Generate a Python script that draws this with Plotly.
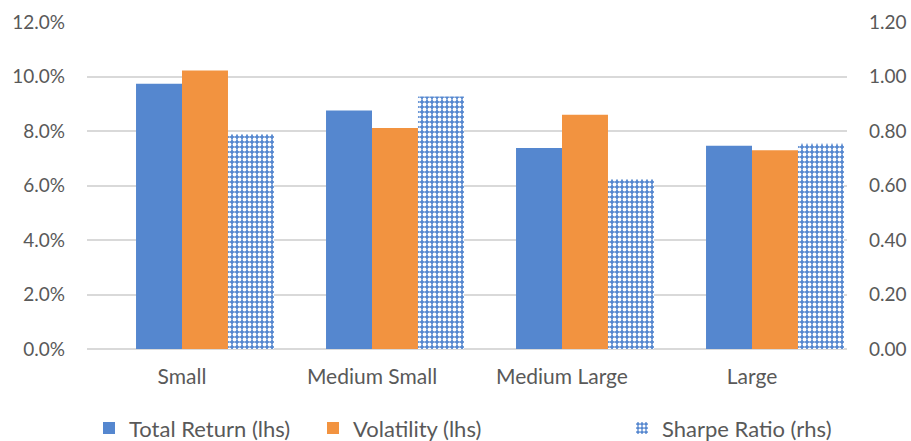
import plotly.graph_objects as go

categories = ["Small", "Medium Small", "Medium Large", "Large"]
total_return = [0.0973, 0.0875, 0.0738, 0.0746]
volatility = [0.1022, 0.0811, 0.0860, 0.0729]
sharpe = [0.788, 0.927, 0.623, 0.753]

left_ticks = [0, 0.02, 0.04, 0.06, 0.08, 0.10, 0.12]
right_ticks = [0, 0.2, 0.4, 0.6, 0.8, 1.0, 1.2]

FONT = "Lato, Open Sans, sans-serif"
BLUE = "#5587CF"
ORANGE = "#F29340"
TXT = "#595959"
W = 0.242

PL, PR = 87, 847
def px(x):
    return (x - PL) / (PR - PL)

fig = go.Figure()
fig.add_trace(go.Bar(x=categories, y=total_return, name="Total Return (lhs)",
                     width=W, offset=-W, showlegend=True,
                     marker=dict(color=BLUE, line=dict(width=0)), legend="legend"))
fig.add_trace(go.Bar(x=categories, y=volatility, name="Volatility (lhs)",
                     width=W, offset=0, showlegend=True,
                     marker=dict(color=ORANGE, line=dict(width=0)), legend="legend2"))
fig.add_trace(go.Bar(x=categories, y=sharpe, name="Sharpe Ratio (rhs)", yaxis="y2",
                     width=W, offset=W, showlegend=True,
                     marker=dict(color=BLUE, line=dict(width=0),
                                 pattern=dict(shape=".", fgcolor="white", bgcolor=BLUE,
                                              size=5, solidity=0.45, fillmode="replace")),
                     legend="legend3"))

leg_common = dict(orientation="h", y=-0.178, yanchor="top", font=dict(size=22, color=TXT),
                  bgcolor="rgba(0,0,0,0)", itemwidth=30)
fig.update_layout(
    width=911, height=441, showlegend=True,
    margin=dict(l=PL, r=911 - PR, t=22, b=92, autoexpand=False),
    paper_bgcolor="white", plot_bgcolor="white",
    font=dict(family=FONT, color=TXT, size=19),
    barmode="overlay",
    xaxis=dict(showgrid=False, showline=False, ticks="", tickfont=dict(size=21),
               ticklabelstandoff=13, automargin=False),
    yaxis=dict(range=[0, 0.12], tickvals=left_ticks, tickformat=".1%",
               gridcolor="#D9D9D9", gridwidth=1.5, zeroline=True, zerolinecolor="#D9D9D9",
               zerolinewidth=2, ticks="", ticklabelstandoff=21, tickfont=dict(size=19),
               automargin=False),
    yaxis2=dict(range=[0, 1.2], tickvals=right_ticks, tickformat=".2f", overlaying="y",
                side="right", showgrid=False, zeroline=False, ticks="",
                ticklabelstandoff=21, tickfont=dict(size=19), automargin=False),
    legend=dict(x=px(89), xanchor="left", **leg_common),
    legend2=dict(x=px(313), xanchor="left", **leg_common),
    legend3=dict(x=px(622), xanchor="left", **leg_common),
)

fig.write_html("out.html", config={"displayModeBar": False},
               post_script="document.body.style.margin='0';")
